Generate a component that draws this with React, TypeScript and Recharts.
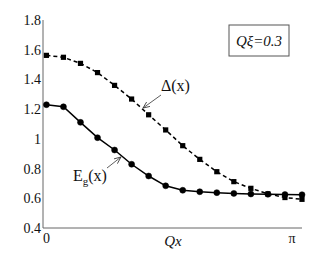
import { Line, LineChart, XAxis, YAxis } from 'recharts'

// sample index along Qx (0 .. π in 15 steps)
const qxIndex = [0, 1, 2, 3, 4, 5, 6, 7, 8, 9, 10, 11, 12, 13, 14, 15]
const gapValues = [1.23, 1.216, 1.111, 1.008, 0.925, 0.829, 0.75, 0.684, 0.654, 0.644, 0.638, 0.633, 0.629, 0.627, 0.625, 0.624]
const deltaValues = [1.562, 1.549, 1.508, 1.446, 1.36, 1.268, 1.162, 1.06, 0.954, 0.862, 0.779, 0.712, 0.667, 0.63, 0.605, 0.593]
const yTicks = [0.4, 0.6, 0.8, 1, 1.2, 1.4, 1.6, 1.8]
const xTicks = [0, 14.41]
const xTickLabels = ['0', 'π']

const data = qxIndex.map((i, k) => ({ i, eg: gapValues[k], delta: deltaValues[k] }))

const W = 333
const H = 257
const FONT = 'Liberation Serif'
const AXIS_COLOR = '#666'
const TICK = { fontSize: 14, fill: '#111', fontFamily: FONT }

function SquareDot(props: any) {
  const { cx, cy } = props
  if (cx == null || cy == null) return null
  return <rect x={cx - 2.6} y={cy - 2.6} width={5.2} height={5.2} fill="#000" />
}

export default function App() {
  return (
    <div style={{ position: 'absolute', left: 0, top: 0, width: W, height: H, background: '#fff', fontFamily: FONT }}>
      <LineChart width={W} height={H} data={data} margin={{ top: 20, right: 31, bottom: 0, left: 0 }}>
        <XAxis
          dataKey="i"
          type="number"
          domain={[-0.2, 15]}
          ticks={xTicks}
          tickFormatter={(v: number) => xTickLabels[xTicks.indexOf(v)] ?? ''}
          tick={TICK}
          tickLine={false}
          tickSize={5}
          tickMargin={0}
          axisLine={{ stroke: AXIS_COLOR }}
          height={29}
          interval={0}
        />
        <YAxis
          type="number"
          domain={[0.4, 1.8]}
          ticks={yTicks}
          tickFormatter={(v: number) => (v === 1 ? '1' : v.toFixed(1))}
          tick={TICK}
          tickLine={false}
          tickSize={2}
          tickMargin={0}
          axisLine={{ stroke: AXIS_COLOR }}
          width={43}
          interval={0}
        />
        <Line
          dataKey="delta"
          type="linear"
          stroke="#000"
          strokeWidth={1.5}
          strokeDasharray="4 3"
          dot={<SquareDot />}
          isAnimationActive={false}
        />
        <Line
          dataKey="eg"
          type="linear"
          stroke="#000"
          strokeWidth={1.5}
          dot={{ r: 3, fill: '#000', stroke: '#000', strokeWidth: 0.5 }}
          isAnimationActive={false}
        />
      </LineChart>
      <svg width={W} height={H} style={{ position: 'absolute', left: 0, top: 0, pointerEvents: 'none' }}>
        <defs>
          <marker id="head" markerWidth="8" markerHeight="6" refX="7" refY="3" orient="auto" markerUnits="userSpaceOnUse">
            <path d="M0,0 L7,3 L0,6" fill="none" stroke="#333" strokeWidth={0.8} />
          </marker>
        </defs>
        <text x={173} y={246} fontFamily={FONT} fontSize={15} fontStyle="italic" textAnchor="middle" fill="#111">
          Qx
        </text>
        <rect x={229} y={25} width={60} height={31} fill="#fff" stroke="#555" strokeWidth={1} />
        <text x={259} y={46} fontFamily={FONT} fontSize={15} fontStyle="italic" textAnchor="middle" fill="#111">
          Qξ=0.3
        </text>
        <text x={161} y={91} fontFamily={FONT} fontSize={16} fill="#111">
          Δ(x)
        </text>
        <line x1={161} y1={95} x2={143} y2={108} stroke="#333" strokeWidth={0.8} markerEnd="url(#head)" />
        <text x={73} y={181} fontFamily={FONT} fontSize={16} fill="#111">
          E<tspan fontSize={11} dy={4}>g</tspan>
          <tspan dy={-4}>(x)</tspan>
        </text>
        <line x1={107} y1={168} x2={121} y2={157} stroke="#333" strokeWidth={0.8} markerEnd="url(#head)" />
      </svg>
    </div>
  )
}
